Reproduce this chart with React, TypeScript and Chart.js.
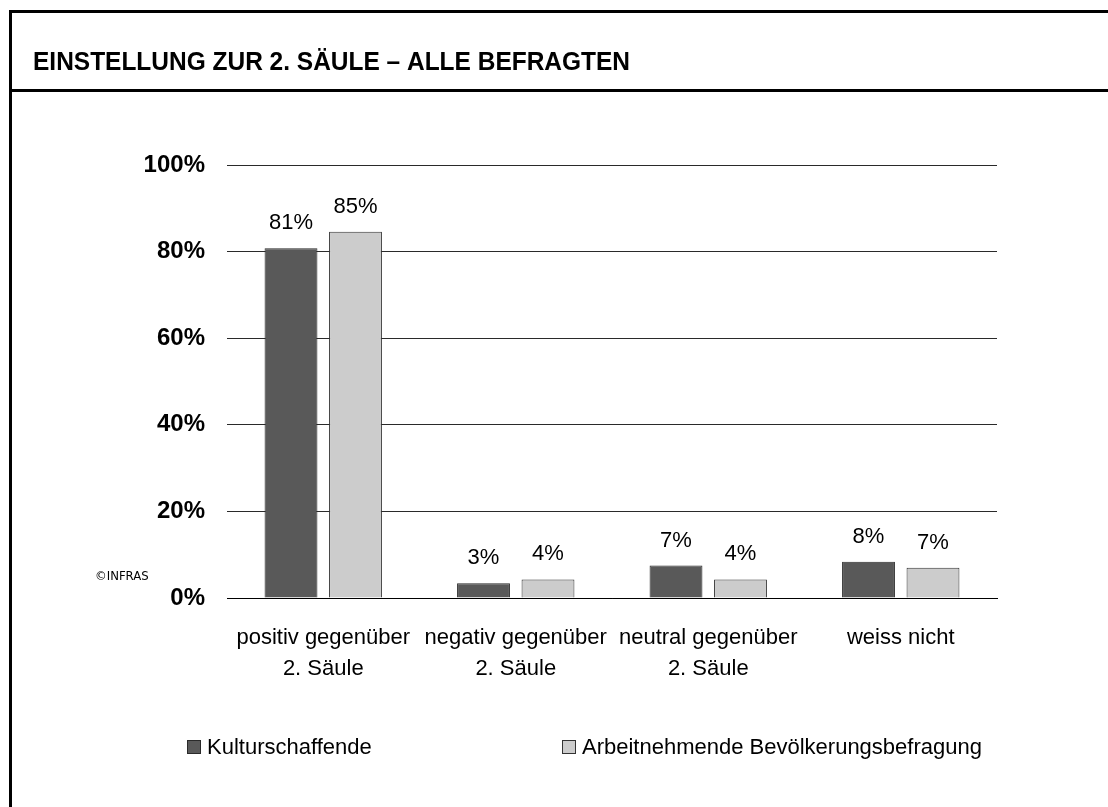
import React, { useEffect, useRef } from "react";
import { Chart, registerables } from "chart.js";

Chart.register(...registerables);

const titleText = "EINSTELLUNG ZUR 2. SÄULE – ALLE BEFRAGTEN";
const copyrightText = "©INFRAS";
const categories = [
  ["positiv gegenüber", "2. Säule"],
  ["negativ gegenüber", "2. Säule"],
  ["neutral gegenüber", "2. Säule"],
  ["weiss nicht"],
];
const seriesNames = ["Kulturschaffende", "Arbeitnehmende Bevölkerungsbefragung"];
const kulturValues = [80.8, 3.4, 7.5, 8.4];
const arbeitValues = [84.6, 4.3, 4.3, 7.0];
const kulturLabels = ["81%", "3%", "7%", "8%"];
const arbeitLabels = ["85%", "4%", "4%", "7%"];
const yTickValues = [0, 20, 40, 60, 80, 100];

const FONT = "'Liberation Sans', Arial, sans-serif";
const W = 1108;
const H = 807;

const decorPlugin = {
  id: "decor",
  afterDraw(chart: any) {
    const ctx = chart.ctx as CanvasRenderingContext2D;
    ctx.save();
    // frame
    ctx.fillStyle = "#000";
    ctx.fillRect(9, 10, W - 9, 3);
    ctx.fillRect(9, 10, 3, H - 10);
    ctx.fillRect(9, 89, W - 9, 3);
    // title (fitted to the reference width)
    ctx.font = `bold 26px ${FONT}`;
    ctx.textAlign = "left";
    ctx.textBaseline = "alphabetic";
    const tw = ctx.measureText(titleText).width;
    ctx.save();
    ctx.translate(33, 70);
    ctx.scale(597 / tw, 1);
    ctx.fillText(titleText, 0, 0);
    ctx.restore();
    // copyright
    ctx.font = `13px 'Liberation Sans Narrow', 'DejaVu Sans Condensed', ${FONT}`;
    ctx.fillText(copyrightText, 95, 580);
    // data labels
    const labelSets = [kulturLabels, arbeitLabels];
    ctx.font = `22px ${FONT}`;
    ctx.textAlign = "center";
    ctx.textBaseline = "bottom";
    chart.data.datasets.forEach((ds: any, di: number) => {
      const meta = chart.getDatasetMeta(di);
      meta.data.forEach((el: any, i: number) => {
        ctx.fillText(labelSets[di][i], el.x, el.y - 14);
      });
    });
    // legend
    const legendX = [187, 562];
    const legendY = 747;
    ctx.font = `22px ${FONT}`;
    ctx.textAlign = "left";
    ctx.textBaseline = "middle";
    chart.data.datasets.forEach((ds: any, di: number) => {
      const x = legendX[di];
      ctx.fillStyle = ds.backgroundColor;
      ctx.fillRect(x, legendY - 7, 14, 14);
      ctx.strokeStyle = ds.borderColor;
      ctx.lineWidth = 1;
      ctx.strokeRect(x + 0.5, legendY - 6.5, 13, 13);
      ctx.fillStyle = "#000";
      ctx.fillText(ds.label, x + 20, legendY + 1);
    });
    ctx.restore();
  },
};

export default function App() {
  const ref = useRef<HTMLCanvasElement>(null);
  useEffect(() => {
    if (!ref.current) return;
    const chart = new Chart(ref.current, {
      type: "bar",
      data: {
        labels: categories,
        datasets: [
          {
            label: seriesNames[0],
            data: kulturValues,
            backgroundColor: "#595959",
            borderColor: "#2a2a2a",
            borderWidth: 1,
            categoryPercentage: 0.67,
            barPercentage: 0.82,
          },
          {
            label: seriesNames[1],
            data: arbeitValues,
            backgroundColor: "#cccccc",
            borderColor: "#333333",
            borderWidth: 1,
            categoryPercentage: 0.67,
            barPercentage: 0.82,
          },
        ],
      },
      options: {
        animation: false,
        responsive: false,
        devicePixelRatio: 1,
        layout: { padding: { left: 0, right: 111, top: 165, bottom: 0 } },
        plugins: { legend: { display: false }, tooltip: { enabled: false } },
        scales: {
          x: {
            grid: { display: false, drawTicks: false },
            border: { display: true, color: "#000", width: 1 },
            ticks: {
              color: "#000",
              font: { family: FONT, size: 22, lineHeight: 1.41 },
              padding: 24,
              maxRotation: 0,
              autoSkip: false,
            },
            afterFit(scale: any) {
              scale.height = 209;
            },
          },
          y: {
            min: 0,
            max: 100,
            afterBuildTicks(scale: any) {
              scale.ticks = yTickValues.map((v) => ({ value: v }));
            },
            grid: { color: "#2a2a2a", lineWidth: 1, drawTicks: false },
            border: { display: false },
            ticks: {
              color: "#000",
              font: { family: FONT, size: 24, weight: "bold" },
              padding: 22,
              callback: (v: any) => `${v}%`,
            },
            afterFit(scale: any) {
              scale.width = 227;
            },
          },
        },
      },
      plugins: [decorPlugin],
    });
    return () => chart.destroy();
  }, []);
  return (
    <div style={{ position: "absolute", left: 0, top: 0, width: W, height: H, background: "#fff" }}>
      <canvas ref={ref} width={W} height={H} style={{ display: "block" }} />
    </div>
  );
}
